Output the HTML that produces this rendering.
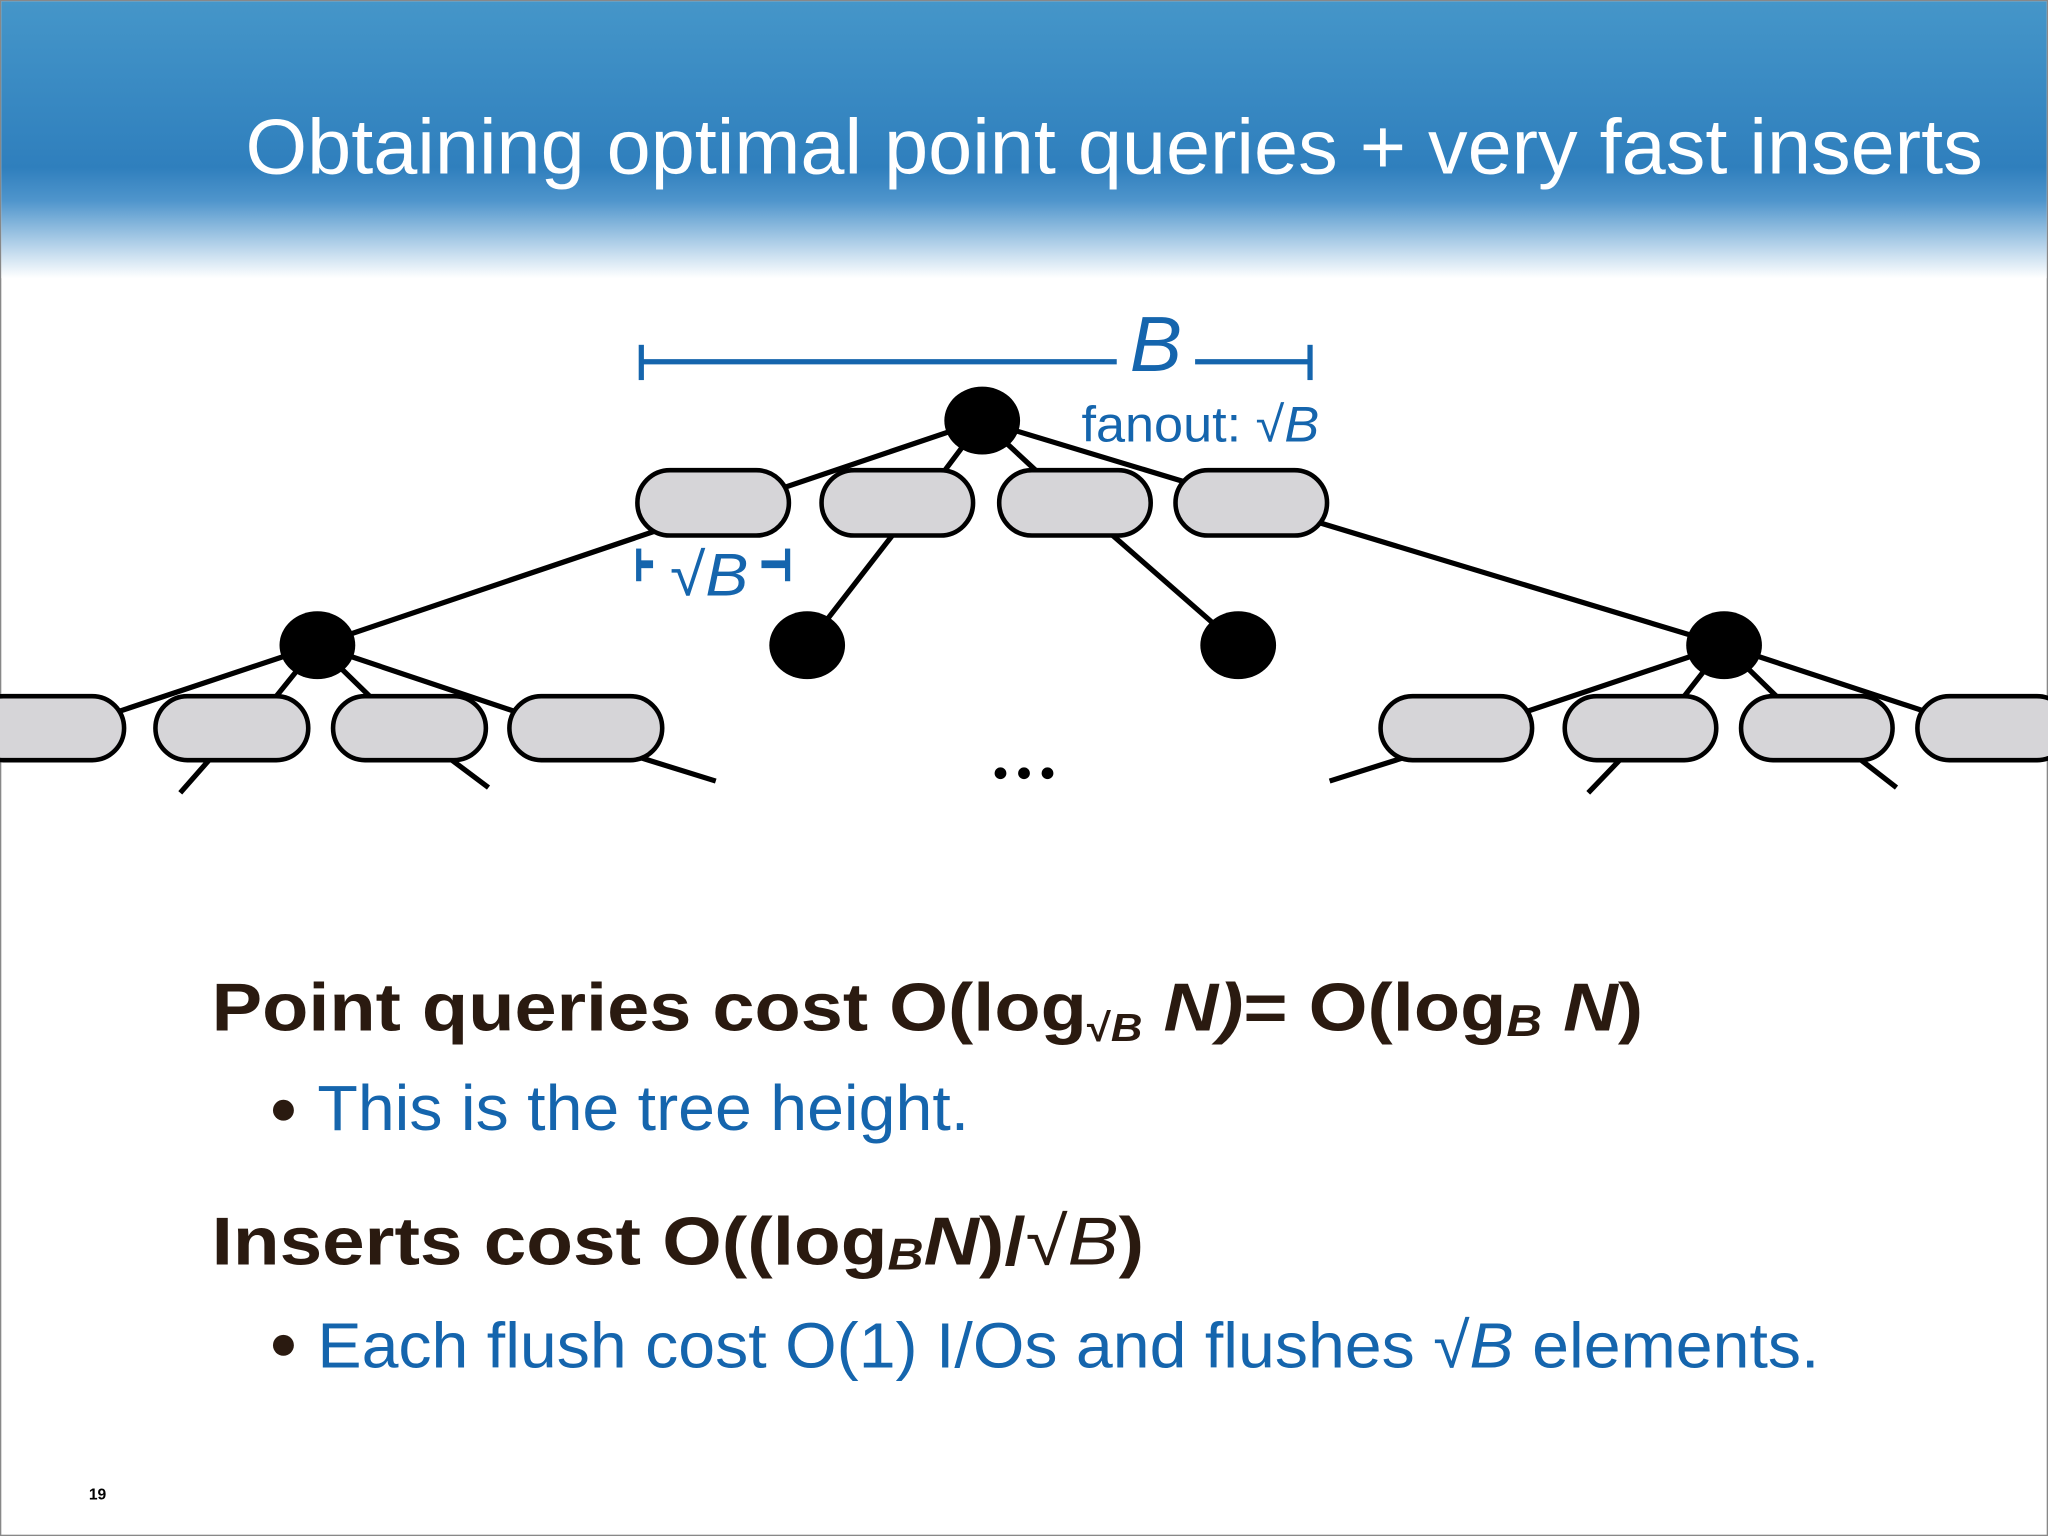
<!DOCTYPE html>
<html><head><meta charset="utf-8"><style>
html,body{margin:0;padding:0;background:#fff;}
svg{display:block;}
text{font-family:"Liberation Sans","DejaVu Sans",sans-serif;}
</style></head><body>
<svg width="2048" height="1536" viewBox="0 0 1568 1176" xmlns="http://www.w3.org/2000/svg">
<defs>
<linearGradient id="hg" x1="0" y1="0" x2="0" y2="1">
<stop offset="0" stop-color="#4596c9"/>
<stop offset="0.6" stop-color="#2f7fbd"/>
<stop offset="0.72" stop-color="#4f95cc"/>
<stop offset="1" stop-color="#ffffff"/>
</linearGradient>
</defs>
<rect x="0" y="0" width="1568" height="1176" fill="#fff" stroke="#888" stroke-width="2"/>
<rect x="1" y="1" width="1566" height="212" fill="url(#hg)"/>
<text x="188" y="133" font-size="60" fill="#fff" textLength="1330" lengthAdjust="spacingAndGlyphs">Obtaining optimal point queries +  very fast inserts</text>

<!-- B bar -->
<g stroke="#1565ad" stroke-width="4" fill="none">
<line x1="491" y1="277" x2="855" y2="277"/>
<line x1="915" y1="277" x2="1003" y2="277"/>
<line x1="491" y1="264" x2="491" y2="291"/>
<line x1="1003" y1="264" x2="1003" y2="291"/>
<line x1="489" y1="432" x2="500" y2="432" stroke-width="6"/>
<line x1="583" y1="432" x2="603" y2="432" stroke-width="6"/>
<line x1="489" y1="420" x2="489" y2="445"/>
<line x1="603" y1="420" x2="603" y2="445"/>
</g>
<text x="885" y="284" font-size="60" font-style="italic" fill="#1565ad" text-anchor="middle">B</text>
<text x="828" y="338" font-size="38" fill="#1565ad" textLength="182" lengthAdjust="spacingAndGlyphs">fanout: √<tspan font-style="italic">B</tspan></text>
<text x="513" y="456" font-size="46" fill="#1565ad" textLength="60" lengthAdjust="spacingAndGlyphs">√<tspan font-style="italic">B</tspan></text>

<!-- edges -->
<g stroke="#000" stroke-width="4" fill="none">
<line x1="752" y1="322" x2="243" y2="494"/>
<line x1="752" y1="322" x2="1320" y2="494"/>
<line x1="752" y1="322" x2="722" y2="362"/>
<line x1="752" y1="322" x2="795" y2="362"/>
<line x1="687" y1="405" x2="618" y2="494"/>
<line x1="852" y1="410" x2="948" y2="494"/>
<line x1="243" y1="494" x2="90" y2="545"/>
<line x1="243" y1="494" x2="210" y2="535"/>
<line x1="243" y1="494" x2="285" y2="535"/>
<line x1="243" y1="494" x2="395" y2="545"/>
<line x1="1320" y1="494" x2="1168" y2="545"/>
<line x1="1320" y1="494" x2="1288" y2="535"/>
<line x1="1320" y1="494" x2="1362" y2="535"/>
<line x1="1320" y1="494" x2="1475" y2="545"/>
<line x1="160" y1="582" x2="138" y2="607"/>
<line x1="346" y1="582" x2="374" y2="603"/>
<line x1="490" y1="580" x2="548" y2="598"/>
<line x1="1075" y1="580" x2="1018" y2="598"/>
<line x1="1240" y1="582" x2="1216" y2="607"/>
<line x1="1425" y1="582" x2="1452" y2="603"/>
</g>

<!-- pills -->
<g fill="#d6d5d8" stroke="#000" stroke-width="3.5">
<rect x="488" y="360" width="116" height="50" rx="25"/>
<rect x="629" y="360" width="116" height="50" rx="25"/>
<rect x="765" y="360" width="116" height="50" rx="25"/>
<rect x="900" y="360" width="116" height="50" rx="25"/>
<rect x="-22" y="533" width="117" height="49" rx="24.5"/>
<rect x="119" y="533" width="117" height="49" rx="24.5"/>
<rect x="255" y="533" width="117" height="49" rx="24.5"/>
<rect x="390" y="533" width="117" height="49" rx="24.5"/>
<rect x="1057" y="533" width="116" height="49" rx="24.5"/>
<rect x="1198" y="533" width="116" height="49" rx="24.5"/>
<rect x="1333" y="533" width="116" height="49" rx="24.5"/>
<rect x="1468" y="533" width="116" height="49" rx="24.5"/>
</g>

<!-- nodes -->
<g fill="#000">
<ellipse cx="752" cy="322" rx="29" ry="26"/>
<ellipse cx="243" cy="494" rx="29" ry="26"/>
<ellipse cx="618" cy="494" rx="29" ry="26"/>
<ellipse cx="948" cy="494" rx="29" ry="26"/>
<ellipse cx="1320" cy="494" rx="29" ry="26"/>
<circle cx="766" cy="592" r="4.5"/>
<circle cx="784" cy="592" r="4.5"/>
<circle cx="802" cy="592" r="4.5"/>
</g>

<!-- text body -->
<text x="162" y="789" font-size="52" font-weight="bold" fill="#2a1a10" textLength="1096" lengthAdjust="spacingAndGlyphs">Point queries cost O(log<tspan font-size="30" dy="8">√</tspan><tspan font-size="30" font-style="italic">B</tspan><tspan dy="-8" font-style="italic"> N)</tspan>= O(log<tspan font-size="34" font-style="italic" dy="4">B</tspan><tspan dy="-4" font-style="italic"> N</tspan>)</text>
<circle cx="217" cy="850" r="8" fill="#2a1a10"/>
<text x="243" y="865" font-size="49" fill="#1565ad" textLength="499" lengthAdjust="spacingAndGlyphs">This is the tree height.</text>
<text x="162" y="968" font-size="52" font-weight="bold" fill="#2a1a10" textLength="714" lengthAdjust="spacingAndGlyphs">Inserts cost O((log<tspan font-size="34" font-style="italic" dy="4">B</tspan><tspan dy="-4" font-style="italic">N</tspan>)/<tspan font-weight="normal">√</tspan><tspan font-style="italic" font-weight="normal">B</tspan>)</text>
<circle cx="217" cy="1030" r="8" fill="#2a1a10"/>
<text x="243" y="1047" font-size="49" fill="#1565ad" textLength="1150" lengthAdjust="spacingAndGlyphs">Each flush cost O(1) I/Os and flushes √<tspan font-style="italic">B</tspan> elements.</text>
<text x="68" y="1148" font-size="12" font-weight="bold" fill="#000">19</text>
</svg>
</body></html>
